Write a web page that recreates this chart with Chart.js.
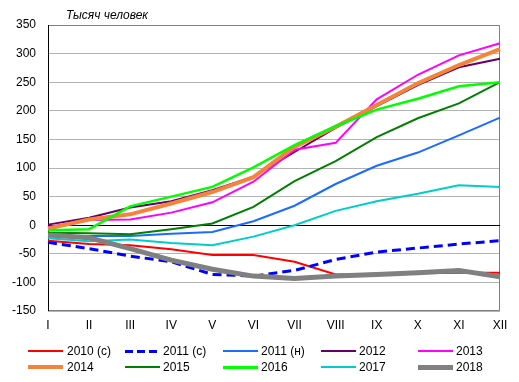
<!DOCTYPE html>
<html>
<head>
<meta charset="utf-8">
<script src="https://cdn.jsdelivr.net/npm/chart.js@4"></script>
<style>
  body { margin: 0; background: #fff; }
  #wrap { position: relative; width: 519px; height: 382px; font-family: "Liberation Sans", Arial, sans-serif; }
  #legend { position: absolute; left: 0; top: 0; width: 519px; height: 382px; pointer-events: none; }
  .item { position: absolute; font-size: 12px; color: #000; line-height: 14px; }
  .item .swatch { position: absolute; left: 0; width: 35px; }
  .item span { position: absolute; white-space: nowrap; }
</style>
</head>
<body>
<div id="wrap">
  <canvas id="chart" width="519" height="382"></canvas>
  <div id="legend"></div>
</div>
<script>
// Месяцы
const months = ['I', 'II', 'III', 'IV', 'V', 'VI', 'VII', 'VIII', 'IX', 'X', 'XI', 'XII'];

// Тысяч человек, нарастающим итогом
const y2010c = [-27, -33, -35, -42, -52, -52, -64, -86, -85, -84, -83, -83];
const y2011c = [-30, -41, -54, -64, -86, -89, -79, -60, -47, -40, -33, -27];
const y2011n = [-19, -19, -19, -15, -12, 7, 34, 72, 104, 127, 157, 188];
const y2012 = [1, 13, 31, 42, 61, 85, 128, 170, 208, 245, 276, 291];
const y2013 = [-3, 9, 10, 22, 40, 76, 132, 144, 220, 263, 297, 318];
const y2014 = [-6, 10, 19, 38, 58, 84, 137, 172, 210, 248, 280, 308];
const y2015 = [-13, -14, -16, -7, 3, 32, 77, 112, 154, 187, 213, 250];
const y2016 = [-9, -7, 33, 50, 67, 101, 140, 173, 202, 221, 243, 250];
const y2017 = [-23, -28, -25, -31, -35, -20, 0, 25, 42, 55, 70, 67];
const y2018 = [-17, -22, -41, -61, -77, -89, -93, -89, -86, -83, -79, -90];

const yTicks = [-150, -100, -50, 0, 50, 100, 150, 200, 250, 300, 350];

const series = [
  { label: '2010 (с)', data: y2010c, color: '#ff0000', width: 2 },
  { label: '2011 (с)', data: y2011c, color: '#0000ff', width: 3, dash: [9, 5] },
  { label: '2011 (н)', data: y2011n, color: '#1a6cff', width: 2 },
  { label: '2012', data: y2012, color: '#660066', width: 2 },
  { label: '2013', data: y2013, color: '#ff00ff', width: 2 },
  { label: '2014', data: y2014, color: '#f4843a', width: 4 },
  { label: '2015', data: y2015, color: '#008000', width: 2 },
  { label: '2016', data: y2016, color: '#00ff00', width: 2.5 },
  { label: '2017', data: y2017, color: '#00cccc', width: 2 },
  { label: '2018', data: y2018, color: '#808080', width: 5 }
];

const FONT = '"Liberation Sans", Arial, sans-serif';

// рамка области построения и подпись единиц
const framePlugin = {
  id: 'frame',
  beforeDatasetsDraw(chart) {
    const { ctx, chartArea: a } = chart;
    ctx.save();
    ctx.strokeStyle = '#808080';
    ctx.lineWidth = 1;
    ctx.beginPath();
    ctx.moveTo(a.left, a.top + 0.5);
    ctx.lineTo(a.right - 0.5, a.top + 0.5);
    ctx.lineTo(a.right - 0.5, a.bottom - 0.5);
    ctx.lineTo(a.left, a.bottom - 0.5);
    ctx.stroke();
    // ось Y
    ctx.strokeStyle = '#000';
    ctx.beginPath();
    ctx.moveTo(a.left + 0.5, a.top);
    ctx.lineTo(a.left + 0.5, a.bottom);
    ctx.stroke();
    // нулевая линия
    const y0 = Math.round(chart.scales.y.getPixelForValue(0)) + 0.5;
    ctx.beginPath();
    ctx.moveTo(a.left, y0);
    ctx.lineTo(a.right, y0);
    ctx.stroke();
    ctx.restore();
  },
  afterDraw(chart) {
    const ctx = chart.ctx;
    ctx.save();
    ctx.font = 'italic 12px ' + FONT;
    ctx.fillStyle = '#000';
    ctx.textBaseline = 'alphabetic';
    ctx.fillText('Тысяч человек', 66, 19);
    ctx.restore();
  }
};

const datasets = series.map((s, i) => ({
  label: s.label,
  data: s.data,
  borderColor: s.color,
  backgroundColor: s.color,
  borderWidth: s.width,
  borderDash: s.dash || [],
  pointRadius: 0,
  tension: 0,
  fill: false,
  order: -i
}));

new Chart(document.getElementById('chart'), {
  type: 'line',
  data: { labels: months, datasets: datasets },
  options: {
    responsive: false,
    animation: false,
    layout: { padding: { left: 0, right: 19, top: 25, bottom: 0 } },
    plugins: { legend: { display: false }, tooltip: { enabled: false } },
    scales: {
      x: {
        offset: false,
        grid: { display: false, drawTicks: false },
        border: { display: false },
        ticks: { color: '#000', font: { family: FONT, size: 12 }, padding: 7, maxRotation: 0, autoSkip: false },
        afterFit(scale) { scale.height = 71; }
      },
      y: {
        min: -150,
        max: 350,
        afterBuildTicks(scale) { scale.ticks = yTicks.map(v => ({ value: v })); },
        grid: { color: '#b3b3b3', drawTicks: false, lineWidth: 1 },
        border: { display: false },
        ticks: { color: '#000', font: { family: FONT, size: 12 }, padding: 12 },
        afterFit(scale) { scale.width = 48; }
      }
    }
  },
  plugins: [framePlugin]
});

// легенда в 5 колонок
const legend = document.getElementById('legend');
const colX = [28, 125, 223, 321, 418];
const rowY = [351, 367];
series.forEach((s, i) => {
  const item = document.createElement('div');
  item.className = 'item';
  item.style.left = colX[i % 5] + 'px';
  item.style.top = (rowY[Math.floor(i / 5)] - 7) + 'px';
  const sw = document.createElement('div');
  sw.className = 'swatch';
  const h = Math.max(2, Math.round(s.width));
  sw.style.top = (7 - h / 2) + 'px';
  sw.style.height = h + 'px';
  if (s.dash) {
    sw.style.background = `repeating-linear-gradient(90deg, ${s.color} 0 8px, transparent 8px 12px)`;
  } else {
    sw.style.background = s.color;
  }
  const tx = document.createElement('span');
  tx.textContent = s.label;
  tx.style.left = (i % 5 === 0 ? 39 : 38) + 'px';
  tx.style.top = '0px';
  item.appendChild(sw);
  item.appendChild(tx);
  legend.appendChild(item);
});
</script>
</body>
</html>
